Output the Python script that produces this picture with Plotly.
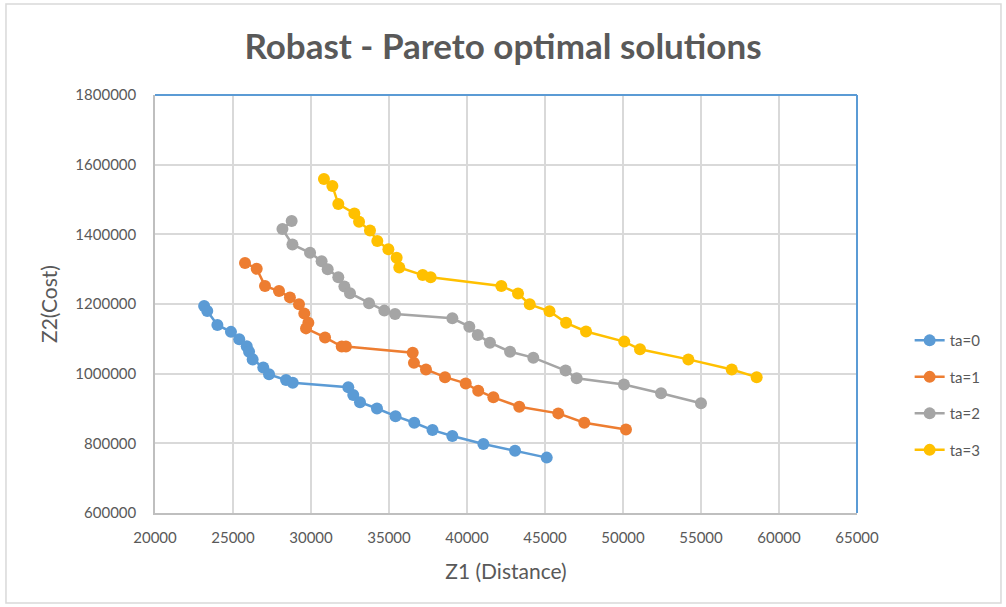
import plotly.graph_objects as go

# Z1 (distance) / Z2 (cost) pairs for each ta level
ta0_z1 = [23150, 23350, 24000, 24870, 25400, 25880, 26030, 26260, 26940, 27310, 28400,
          28830, 32390, 32710, 33140, 34230, 35420, 36620, 37790, 39060, 41050, 43080, 45110]
ta0_z2 = [1194000, 1180000, 1140000, 1120000, 1099000, 1079000, 1063000, 1041000, 1018000,
          998000, 982000, 974000, 961000, 939000, 918000, 900000, 878000, 859000, 838000,
          821000, 798000, 779000, 759000]

ta1_z1 = [25770, 26520, 27050, 27950, 28650, 29230, 29570, 29830, 29680, 30900, 31970,
          32240, 36520, 36600, 37370, 38590, 39920, 40720, 41690, 43350, 45850, 47520, 50190]
ta1_z2 = [1318000, 1301000, 1252000, 1237000, 1219000, 1199000, 1173000, 1146000, 1130000,
          1104000, 1078000, 1078000, 1060000, 1031000, 1012000, 990000, 972000, 951000,
          932000, 905000, 886000, 859000, 840000]

ta2_z1 = [28760, 28170, 28810, 29940, 30680, 31070, 31750, 32140, 32500, 33720, 34700,
          35390, 39060, 40150, 40690, 41470, 42760, 44250, 46320, 47030, 50060, 52440, 55000]
ta2_z2 = [1438000, 1415000, 1371000, 1347000, 1323000, 1300000, 1277000, 1250000, 1231000,
          1202000, 1181000, 1171000, 1159000, 1135000, 1111000, 1089000, 1063000, 1046000,
          1009000, 987000, 969000, 944000, 915000]

ta3_z1 = [30830, 31370, 31750, 32780, 33080, 33780, 34250, 34960, 35490, 35660, 37160,
          37670, 42200, 43270, 44020, 45290, 46350, 47630, 50080, 51090, 54190, 56970, 58570]
ta3_z2 = [1559000, 1539000, 1487000, 1460000, 1436000, 1411000, 1381000, 1357000, 1333000,
          1305000, 1283000, 1277000, 1252000, 1230000, 1199000, 1179000, 1146000, 1121000,
          1092000, 1070000, 1041000, 1012000, 990000]

names = ["ta=0", "ta=1", "ta=2", "ta=3"]
colors = ["#5B9BD5", "#ED7D31", "#A5A5A5", "#FFC000"]
series = [(ta0_z1, ta0_z2), (ta1_z1, ta1_z2), (ta2_z1, ta2_z2), (ta3_z1, ta3_z2)]

text_color = "#595959"
font_family = "Lato, 'Open Sans', sans-serif"

fig = go.Figure()
for name, color, (xs, ys) in zip(names, colors, series):
    fig.add_trace(go.Scatter(
        x=xs, y=ys, name=name, mode="lines+markers",
        line=dict(color=color, width=2.5),
        marker=dict(color=color, size=12),
        legendgroup=name,
    ))

fig.update_layout(
    width=1006, height=607,
    margin=dict(l=155, r=149, t=95, b=94),
    paper_bgcolor="white", plot_bgcolor="white",
    font=dict(family=font_family, color=text_color, size=15),
    title=dict(text="<b>Robast - Pareto optimal solutions</b>", x=0.5, xanchor="center",
               y=1 - 47 / 607, yanchor="middle", font=dict(size=35, color=text_color)),
    legend=dict(x=1.075, y=0.282, xanchor="left", yanchor="middle",
                traceorder="grouped", tracegroupgap=14, font=dict(size=15)),
)

fig.update_xaxes(
    range=[20000, 65000], dtick=5000, tickformat="d",
    showgrid=True, gridcolor="#D9D9D9", gridwidth=1.5,
    showline=True, linecolor="#BFBFBF", linewidth=1.5,
    ticks="outside", ticklen=10, tickcolor="rgba(0,0,0,0)",
    zeroline=False,
    title=dict(text="Z1 (Distance)", font=dict(size=21), standoff=20),
)
fig.update_yaxes(
    range=[600000, 1800000], dtick=200000, tickformat="d",
    showgrid=True, gridcolor="#D9D9D9", gridwidth=1.5,
    showline=True, linecolor="#BFBFBF", linewidth=1.5,
    ticks="outside", ticklen=14, tickcolor="rgba(0,0,0,0)",
    zeroline=False,
    title=dict(text="Z2(Cost)", font=dict(size=21), standoff=12),
)

# blue frame on the top and right of the plot area
fig.add_shape(type="line", xref="paper", yref="paper", x0=0, y0=1, x1=1, y1=1,
              line=dict(color="#5B9BD5", width=2))
fig.add_shape(type="line", xref="paper", yref="paper", x0=1, y0=0, x1=1, y1=1,
              line=dict(color="#5B9BD5", width=2))
# light grey chart border
fig.add_shape(type="rect", xref="paper", yref="paper",
              x0=-0.2123, y0=-0.2153, x1=1.2051, y1=1.2177,
              line=dict(color="#D9D9D9", width=1.5), layer="below")

# drop the default page margin so the figure sits at the window's corner
fig.write_html("out.html", config={"displayModeBar": False},
               post_script="document.body.style.margin='0';")
